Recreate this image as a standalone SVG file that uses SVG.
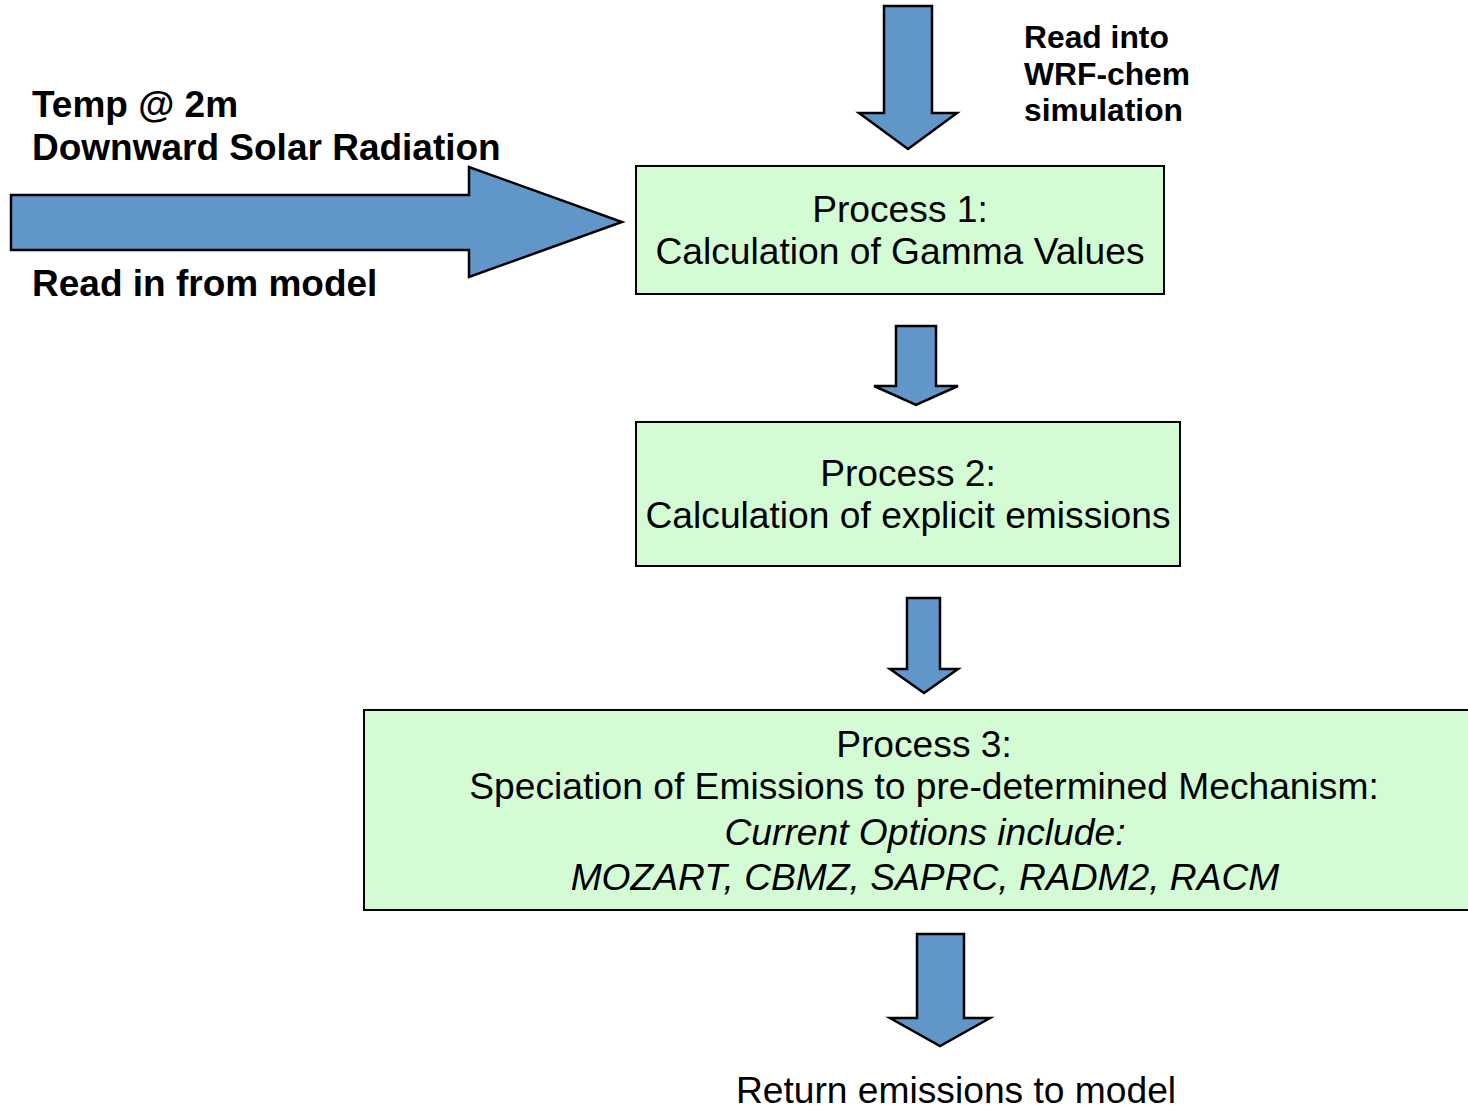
<svg xmlns="http://www.w3.org/2000/svg" width="1468" height="1111" viewBox="0 0 1468 1111">
<style>
.arr{fill:#6196C9;stroke:#000;stroke-width:2.5;stroke-linejoin:miter}
.box{fill:#D4FCD4;stroke:#000;stroke-width:2}
.t{font-family:"Liberation Sans",Arial,sans-serif;fill:#000}
.b{font-weight:bold;font-size:37px}
.s{font-weight:bold;font-size:31.8px}
.p{font-size:37.2px;text-anchor:middle}
.i{font-style:italic}
</style>
<rect width="1468" height="1111" fill="#fff"/>
<g id="connectors">
<polygon class="arr" points="884,6 932,6 932,113 957,113 908,149 859,113 884,113"/>
<polygon class="arr" points="11,195 469,195 469,167 622,222 469,277 469,250 11,250"/>
<polygon class="arr" points="896,326 936,326 936,386 958,386 916,405 874,386 896,386"/>
<polygon class="arr" points="907,598 940,598 940,669 958,669 924,693 890,669 907,669"/>
<polygon class="arr" points="917,934 964,934 964,1018 990,1018 940,1046 890,1018 917,1018"/>
</g>
<g id="label-inputs" class="t b">
<text x="32" y="117">Temp @ 2m</text>
<text x="32" y="160">Downward Solar Radiation</text>
<text x="32" y="296">Read in from model</text>
</g>
<g id="label-wrf" class="t s">
<text x="1024" y="48">Read into</text>
<text x="1024" y="85">WRF-chem</text>
<text x="1024" y="121">simulation</text>
</g>
<g id="process1">
<rect class="box" x="636" y="166" width="528" height="128"/>
<text class="t p" x="900" y="222">Process 1:</text>
<text class="t p" x="900" y="264">Calculation of Gamma Values</text>
</g>
<g id="process2">
<rect class="box" x="636" y="422" width="544" height="144"/>
<text class="t p" x="908" y="486">Process 2:</text>
<text class="t p" x="908" y="528">Calculation of explicit emissions</text>
</g>
<g id="process3">
<rect class="box" x="364" y="710" width="1110" height="200"/>
<text class="t p" x="924" y="757">Process 3:</text>
<text class="t p" x="924" y="799">Speciation of Emissions to pre-determined Mechanism:</text>
<text class="t p i" x="925" y="845">Current Options include:</text>
<text class="t p i" x="925" y="890">MOZART, CBMZ, SAPRC, RADM2, RACM</text>
</g>
<g id="label-return">
<text class="t p" x="956" y="1103">Return emissions to model</text>
</g>
</svg>
